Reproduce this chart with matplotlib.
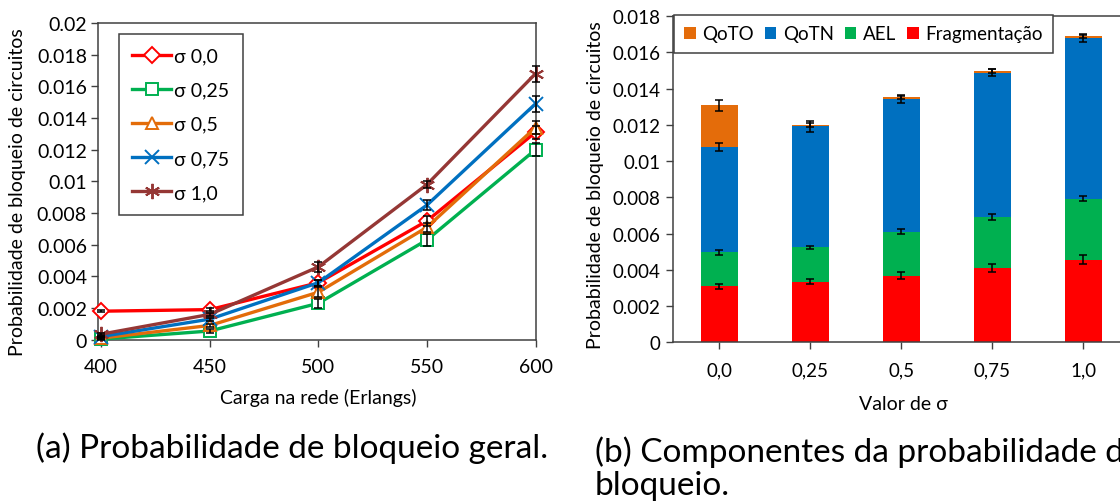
import matplotlib
matplotlib.use("Agg")
import matplotlib.pyplot as plt
import numpy as np

plt.rcParams['font.family'] = ['Lato', 'DejaVu Sans']

# ---------------- data: left chart ----------------
loads = [400, 450, 500, 550, 600]
load_ticks = [400, 450, 500, 550, 600]
s00 = [0.0018, 0.0019, 0.0036, 0.0075, 0.0131]
s025 = [0.00004, 0.00055, 0.0023, 0.0063, 0.0120]
s05 = [0.0001, 0.0009, 0.0030, 0.0071, 0.0134]
s075 = [0.0002, 0.0013, 0.0036, 0.0085, 0.0149]
s10 = [0.00035, 0.0016, 0.0046, 0.0098, 0.0168]
e00 = [0.00008, 0.0001, 0.0002, 0.0003, 0.0004]
e025 = [0.00005, 0.0001, 0.0003, 0.0004, 0.0004]
e05 = [0.00005, 0.0001, 0.0003, 0.0003, 0.0004]
e075 = [0.00005, 0.0001, 0.0002, 0.0003, 0.0005]
e10 = [0.00005, 0.0001, 0.0003, 0.0002, 0.0005]
left_labels = ['σ 0,0', 'σ 0,25', 'σ 0,5', 'σ 0,75', 'σ 1,0']
left_yticks = [0, 0.002, 0.004, 0.006, 0.008, 0.01, 0.012, 0.014, 0.016, 0.018, 0.02]
left_yticklabels = ['0', '0.002', '0.004', '0.006', '0.008', '0.01', '0.012',
                    '0.014', '0.016', '0.018', '0.02']

# ---------------- data: right chart ----------------
sigma_labels = ['0,0', '0,25', '0,5', '0,75', '1,0']
frag = [0.00309, 0.00335, 0.00368, 0.00410, 0.00455]
ael = [0.00187, 0.00188, 0.00243, 0.00281, 0.00337]
qotn = [0.00583, 0.00668, 0.00730, 0.00796, 0.00887]
qoto = [0.00229, 0.00007, 0.00011, 0.00009, 0.00008]
frag_err = [0.00014, 0.00014, 0.00020, 0.00020, 0.00025]
ael_err = [0.00012, 0.00010, 0.00015, 0.00018, 0.00015]
qotn_err = [0.00022, 0.00030, 0.00020, 0.00020, 0.00024]
qoto_err = [0.00030, 0.00010, 0.00010, 0.00010, 0.00010]
right_yticks = [0, 0.002, 0.004, 0.006, 0.008, 0.01, 0.012, 0.014, 0.016, 0.018]
right_yticklabels = ['0', '0.002', '0.004', '0.006', '0.008', '0.01', '0.012',
                     '0.014', '0.016', '0.018']

W, H = 1120, 502
fig = plt.figure(figsize=(W / 100, H / 100), dpi=100)

def rect(l, t, r, b):
    return [l / W, 1 - b / H, (r - l) / W, (b - t) / H]

spine_c = '#404040'

# ---------------- left chart ----------------
ax1 = fig.add_axes(rect(98, 24, 535.5, 340.7))
series = [
    (s00, e00, '#FF0000', 'D', 8),
    (s025, e025, '#00B050', 's', 9),
    (s05, e05, '#E36C09', '^', 9),
    (s075, e075, '#0070C0', 'x', 10),
    (s10, e10, '#953735', (6, 2, 0), 11),
]
for (vals, errs, col, mk, ms), lab in zip(series, left_labels):
    ax1.plot(loads, vals, color=col, lw=2.4, marker=mk, ms=ms,
             mfc='white' if mk in ('D', 's', '^') else col, mec=col, mew=1.4,
             label=lab, zorder=3, clip_on=False)
    ax1.errorbar(loads, vals, yerr=errs, fmt='none', ecolor='black',
                 elinewidth=1.1, capsize=3, capthick=1.1, zorder=4, clip_on=False)

ax1.set_xlim(398.5, 600)
ax1.set_ylim(0, 0.02)
ax1.set_xticks(load_ticks)
ax1.set_xticklabels([str(v) for v in load_ticks])
ax1.set_yticks(left_yticks)
ax1.set_yticklabels(left_yticklabels)
ax1.tick_params(axis='both', labelsize=14, length=5, width=1, color=spine_c,
                direction='out', pad=3)
ax1.tick_params(axis='x', pad=8)
for s in ax1.spines.values():
    s.set_color(spine_c)
    s.set_linewidth(1.1)
ax1.set_xlabel('Carga na rede (Erlangs)', fontsize=14)
ax1.xaxis.set_label_coords(0.503, -0.181)
ax1.set_ylabel('Probabilidade de bloqueio de circuitos', fontsize=14)
ax1.yaxis.set_label_coords(-0.183, 0.47)
ax1.xaxis.label.set_va('center')
ax1.yaxis.label.set_va('center')

leg1 = ax1.legend(loc='upper left', bbox_to_anchor=(118.6 / W, 1 - 35 / H),
                  bbox_transform=fig.transFigure, fontsize=14, numpoints=1,
                  handlelength=2.0, handletextpad=0.15, labelspacing=0.88,
                  borderpad=0.7, fancybox=False, framealpha=1,
                  edgecolor='#404040', borderaxespad=0)
leg1.get_frame().set_linewidth(1.1)

# ---------------- right chart ----------------
ax2 = fig.add_axes(rect(673.3, 17, 1129, 343.3))
x = np.arange(len(sigma_labels))
bw = 0.403
b1 = np.array(frag)
b2 = b1 + np.array(ael)
b3 = b2 + np.array(qotn)
b4 = b3 + np.array(qoto)
ax2.bar(x, frag, bw, color='#FF0000', label='Fragmentação', zorder=2)
ax2.bar(x, ael, bw, bottom=b1, color='#00B050', label='AEL', zorder=2)
ax2.bar(x, qotn, bw, bottom=b2, color='#0070C0', label='QoTN', zorder=2)
ax2.bar(x, qoto, bw, bottom=b3, color='#E46C0A', label='QoTO', zorder=2)
for tops, errs in ((b1, frag_err), (b2, ael_err), (b3, qotn_err), (b4, qoto_err)):
    ax2.errorbar(x, tops, yerr=errs, fmt='none', ecolor='black', elinewidth=1.1,
                 capsize=3, capthick=1.1, zorder=4)

ax2.set_xlim(-0.505, 4.5)
ax2.set_ylim(0, 0.018)
ax2.set_xticks(x)
ax2.set_xticklabels(sigma_labels)
ax2.set_yticks(right_yticks)
ax2.set_yticklabels(right_yticklabels)
ax2.tick_params(axis='both', labelsize=13.5, length=5, width=1, color=spine_c,
                direction='out')
ax2.tick_params(axis='x', pad=9)
ax2.tick_params(axis='y', pad=4)
for s in ax2.spines.values():
    s.set_color(spine_c)
    s.set_linewidth(1.1)
ax2.set_xlabel('Valor de σ', fontsize=14)
ax2.xaxis.set_label_coords(0.506, -0.189)
ax2.set_ylabel('Probabilidade de bloqueio de circuitos', fontsize=14)
ax2.yaxis.set_label_coords(-0.171, 0.485)
ax2.xaxis.label.set_va('center')
ax2.yaxis.label.set_va('center')

h, l = ax2.get_legend_handles_labels()
order = [3, 2, 1, 0]
leg2 = ax2.legend([h[i] for i in order], [l[i] for i in order], loc='upper left',
                  bbox_to_anchor=(674 / W, 1 - 16 / H), bbox_transform=fig.transFigure,
                  ncol=4, fontsize=13.5, handlelength=0.6, handleheight=0.6,
                  handletextpad=0.35, columnspacing=0.6, borderpad=0.55,
                  fancybox=False, framealpha=1, edgecolor='#404040', borderaxespad=0)
leg2.get_frame().set_linewidth(1.1)

# ---------------- captions ----------------
fig.text(36 / W, 1 - 448 / H, '(a) Probabilidade de bloqueio geral.',
         fontsize=24, ha='left', va='center')
fig.text(595 / W, 1 - 468.5 / H, '(b) Componentes da probabilidade de\nbloqueio.',
         fontsize=24, ha='left', va='center', linespacing=1.15)

fig.savefig('out.png', dpi=100)
